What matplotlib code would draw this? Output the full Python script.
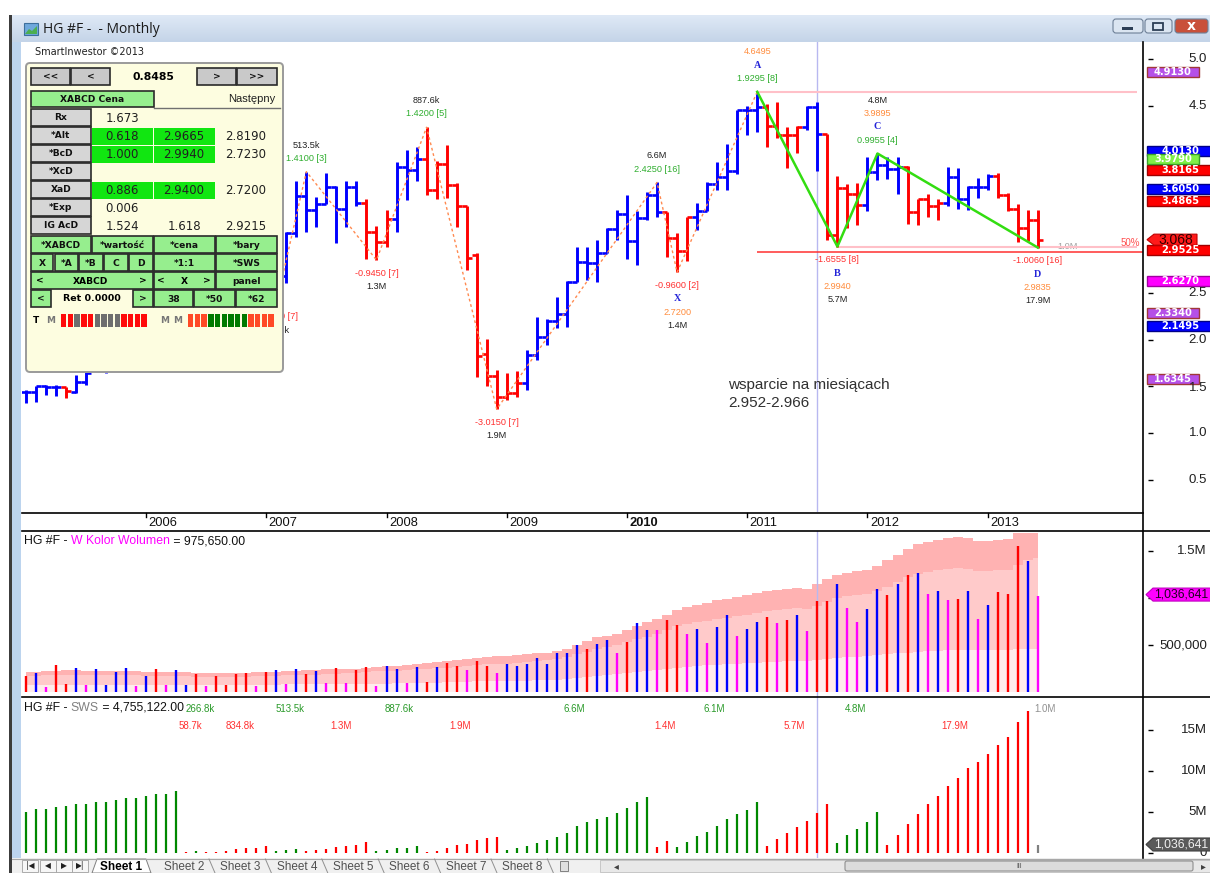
import numpy as np
import matplotlib
matplotlib.use("Agg")
import matplotlib.pyplot as plt
from matplotlib.patches import Rectangle, Polygon, FancyBboxPatch
from matplotlib.colors import LinearSegmentedColormap
from matplotlib import transforms

plt.rcParams['font.family'] = ['Liberation Sans', 'DejaVu Sans']

# ---------------- data (monthly, Jan 2005 .. Jun 2013) ----------------
opens = [1.44, 1.44, 1.50, 1.49, 1.49, 1.44, 1.55, 1.67, 1.70, 1.80,
         1.90, 2.03, 2.07, 2.25, 2.23, 2.47, 3.30, 3.73, 3.41, 3.54,
         3.49, 3.46, 3.39, 3.18, 2.87, 2.60, 2.68, 3.14, 3.53, 3.39,
         3.45, 3.635, 3.40, 3.635, 3.46, 3.15, 3.04, 3.29, 3.84, 3.81,
         3.93, 3.60, 3.88, 3.65, 3.43, 2.90, 1.85, 1.61, 1.39, 1.43,
         1.53, 1.83, 2.03, 2.20, 2.27, 2.62, 2.83, 2.815, 2.93, 3.18,
         3.34, 3.05, 3.30, 3.545, 3.36, 3.09, 2.95, 3.31, 3.37, 3.66,
         3.74, 3.80, 4.45, 4.46, 4.49, 4.28, 4.19, 4.19, 4.27, 4.49,
         4.20, 3.12, 3.62, 3.56, 3.44, 3.79, 3.87, 3.82, 3.85, 3.36,
         3.50, 3.43, 3.46, 3.74, 3.50, 3.63, 3.63, 3.75, 3.55, 3.40,
         3.19, 3.28]
highs = [1.46, 1.50, 1.51, 1.51, 1.49, 1.62, 1.66, 1.75, 1.82, 1.95,
         2.05, 2.22, 2.30, 2.32, 2.50, 3.36, 4.16, 3.80, 3.78, 3.66,
         3.65, 3.68, 3.40, 3.20, 2.90, 2.80, 3.15, 3.70, 3.795, 3.52,
         3.78, 3.64, 3.70, 3.70, 3.50, 3.21, 3.385, 3.90, 4.03, 4.06,
         4.27, 3.91, 4.085, 3.67, 3.43, 2.93, 2.01, 1.67, 1.64, 1.66,
         1.89, 2.24, 2.22, 2.45, 2.63, 2.99, 2.99, 3.06, 3.19, 3.385,
         3.545, 3.37, 3.58, 3.68, 3.36, 3.14, 3.31, 3.46, 3.68, 3.90,
         4.09, 4.45, 4.50, 4.6495, 4.52, 4.54, 4.27, 4.28, 4.50, 4.54,
         4.20, 3.75, 3.66, 3.67, 3.95, 3.9895, 3.95, 3.95, 3.86, 3.50,
         3.56, 3.50, 3.84, 3.83, 3.64, 3.73, 3.77, 3.78, 3.57, 3.45,
         3.39, 3.39]
lows = [1.32, 1.335, 1.41, 1.40, 1.37, 1.43, 1.51, 1.66, 1.645, 1.78,
        1.85, 1.98, 2.05, 2.13, 2.20, 2.45, 3.25, 2.88, 3.30, 3.35,
        3.33, 3.30, 3.05, 2.80, 2.45, 2.385, 2.60, 3.10, 3.15, 3.20,
        3.45, 3.03, 3.20, 3.43, 2.86, 2.85, 2.99, 3.15, 3.49, 3.70,
        3.545, 3.50, 3.515, 3.20, 2.74, 1.60, 1.50, 1.255, 1.35, 1.39,
        1.46, 1.78, 1.94, 2.12, 2.13, 2.62, 2.64, 2.62, 2.92, 3.06,
        2.86, 2.80, 3.28, 3.31, 2.885, 2.72, 2.84, 3.17, 3.37, 3.60,
        3.60, 3.77, 4.19, 4.22, 4.06, 4.15, 3.83, 4.00, 4.24, 3.80,
        3.06, 2.994, 3.19, 3.23, 3.37, 3.71, 3.72, 3.56, 3.24, 3.22,
        3.31, 3.28, 3.43, 3.40, 3.39, 3.51, 3.60, 3.51, 3.37, 3.04,
        3.05, 2.9835]
closes = [1.44, 1.50, 1.49, 1.49, 1.45, 1.55, 1.645, 1.70, 1.80, 1.90,
          2.03, 2.07, 2.25, 2.23, 2.47, 3.30, 3.73, 3.41, 3.54, 3.49,
          3.46, 3.39, 3.18, 2.87, 2.60, 2.68, 3.14, 3.53, 3.39, 3.45,
          3.635, 3.40, 3.635, 3.46, 3.15, 3.04, 3.29, 3.84, 3.81, 3.93,
          3.60, 3.88, 3.65, 3.43, 2.87, 1.82, 1.61, 1.39, 1.43, 1.53,
          1.83, 2.03, 2.20, 2.27, 2.62, 2.83, 2.815, 2.93, 3.18, 3.34,
          3.05, 3.30, 3.545, 3.36, 3.09, 2.95, 3.31, 3.37, 3.66, 3.74,
          3.80, 4.45, 4.46, 4.49, 4.28, 4.19, 4.19, 4.27, 4.49, 4.20,
          3.12, 3.62, 3.56, 3.44, 3.79, 3.87, 3.82, 3.85, 3.36, 3.50,
          3.43, 3.46, 3.74, 3.50, 3.63, 3.63, 3.75, 3.55, 3.40, 3.19,
          3.28, 3.068]
bar_colors = ("bbbbrbbbbb" "bbbrbbbrbr" "rrrrrrbbbb" "bbbbrrrbbb" "rrrrrrrrrr"
              "bbbbbbbbbb" "bbbbrrrbbb" "bbbbrrrrbb" "rrrrbbbbrr" "rrbbbbbrrr" "rr")

# volume in millions
volume = [0.17, 0.20, 0.05, 0.29, 0.08, 0.26, 0.07, 0.24, 0.07, 0.21,
          0.26, 0.06, 0.17, 0.24, 0.07, 0.23, 0.07, 0.19, 0.06, 0.17,
          0.07, 0.19, 0.20, 0.06, 0.21, 0.23, 0.08, 0.24, 0.19, 0.22,
          0.10, 0.26, 0.10, 0.23, 0.27, 0.06, 0.28, 0.25, 0.10, 0.27,
          0.11, 0.27, 0.31, 0.28, 0.23, 0.33, 0.28, 0.20, 0.30, 0.28,
          0.30, 0.36, 0.30, 0.42, 0.42, 0.50, 0.46, 0.51, 0.55, 0.41,
          0.53, 0.73, 0.66, 0.66, 0.77, 0.71, 0.62, 0.67, 0.52, 0.69,
          0.82, 0.60, 0.67, 0.74, 0.80, 0.73, 0.77, 0.82, 0.65, 0.97,
          0.97, 1.15, 0.89, 0.75, 0.88, 1.10, 1.03, 1.15, 1.25, 1.27,
          1.04, 1.07, 0.98, 0.99, 1.07, 0.78, 0.93, 1.06, 1.04, 1.55,
          1.39, 1.02]
vol_colors = ("rbmrrbmbbbbmbrmbbrmrrrrmrbmbrbmrmrrmbbmbrbrrmrrmbbbbbbbbrb"
              "bmrbbmrrmbmbbmbbrmrbmrrbmmbbrbrbmbmrbmbrrrbm")
band_top = [0.21, 0.21, 0.22, 0.22, 0.23, 0.23, 0.22, 0.22, 0.22, 0.22,
            0.22, 0.22, 0.21, 0.21, 0.21, 0.21, 0.21, 0.20, 0.20, 0.20,
            0.20, 0.20, 0.20, 0.21, 0.21, 0.21, 0.22, 0.22, 0.23, 0.23,
            0.24, 0.24, 0.25, 0.25, 0.26, 0.27, 0.28, 0.28, 0.29, 0.30,
            0.31, 0.32, 0.33, 0.34, 0.35, 0.36, 0.37, 0.38, 0.38, 0.39,
            0.40, 0.41, 0.42, 0.44, 0.46, 0.50, 0.54, 0.58, 0.60, 0.62,
            0.66, 0.70, 0.74, 0.78, 0.82, 0.87, 0.90, 0.93, 0.95, 0.98,
            0.99, 1.01, 1.03, 1.05, 1.07, 1.09, 1.10, 1.11, 1.10, 1.15,
            1.20, 1.25, 1.27, 1.29, 1.30, 1.34, 1.40, 1.46, 1.52, 1.57,
            1.60, 1.62, 1.64, 1.65, 1.64, 1.61, 1.61, 1.62, 1.63, 1.69,
            1.69, 1.69]
band_mid = [0.17, 0.17, 0.18, 0.18, 0.18, 0.18, 0.18, 0.18, 0.18, 0.18,
            0.18, 0.18, 0.17, 0.17, 0.17, 0.17, 0.17, 0.16, 0.16, 0.16,
            0.16, 0.16, 0.16, 0.17, 0.17, 0.17, 0.18, 0.18, 0.18, 0.18,
            0.19, 0.19, 0.20, 0.20, 0.21, 0.22, 0.22, 0.22, 0.23, 0.24,
            0.25, 0.26, 0.26, 0.27, 0.28, 0.29, 0.30, 0.30, 0.30, 0.31,
            0.32, 0.33, 0.34, 0.35, 0.37, 0.40, 0.43, 0.46, 0.48, 0.50,
            0.53, 0.56, 0.59, 0.62, 0.66, 0.70, 0.72, 0.74, 0.76, 0.78,
            0.79, 0.81, 0.82, 0.84, 0.86, 0.87, 0.88, 0.89, 0.88, 0.92,
            0.96, 1.00, 1.02, 1.03, 1.04, 1.07, 1.12, 1.17, 1.22, 1.26,
            1.28, 1.30, 1.31, 1.32, 1.31, 1.29, 1.29, 1.30, 1.30, 1.35,
            1.40, 1.43]
band_low = [0.07, 0.07, 0.07, 0.07, 0.07, 0.07, 0.07, 0.07, 0.07, 0.07,
            0.07, 0.07, 0.07, 0.07, 0.07, 0.07, 0.07, 0.07, 0.07, 0.07,
            0.07, 0.07, 0.07, 0.07, 0.07, 0.07, 0.08, 0.08, 0.08, 0.08,
            0.08, 0.08, 0.08, 0.09, 0.09, 0.09, 0.09, 0.10, 0.10, 0.10,
            0.10, 0.10, 0.11, 0.11, 0.11, 0.12, 0.12, 0.12, 0.12, 0.12,
            0.12, 0.13, 0.13, 0.13, 0.14, 0.15, 0.16, 0.17, 0.18, 0.19,
            0.20, 0.21, 0.22, 0.23, 0.24, 0.26, 0.27, 0.28, 0.29, 0.29,
            0.30, 0.30, 0.31, 0.31, 0.32, 0.32, 0.33, 0.33, 0.33, 0.34,
            0.35, 0.36, 0.37, 0.37, 0.38, 0.39, 0.40, 0.41, 0.42, 0.43,
            0.44, 0.44, 0.45, 0.45, 0.45, 0.45, 0.45, 0.45, 0.45, 0.46,
            0.46, 0.46]

# swing volume (SWS) in millions
sws = [5.04, 5.33, 5.33, 5.57, 5.73, 5.98, 5.98, 6.22, 6.22, 6.46,
       6.75, 6.75, 7.00, 7.16, 7.24, 7.56, 0.11, 0.20, 0.11, 0.11,
       0.20, 0.53, 0.60, 0.60, 0.89, 0.20, 0.36, 0.44, 0.28, 0.36,
       0.53, 0.77, 0.89, 1.00, 1.30, 0.20, 0.36, 0.60, 0.60, 0.85,
       0.11, 0.28, 0.60, 1.00, 1.14, 1.55, 1.79, 1.95, 0.36, 0.60,
       0.89, 1.26, 1.55, 1.91, 2.44, 3.33, 3.82, 4.10, 4.43, 4.92,
       5.45, 6.18, 6.79, 0.77, 1.50, 0.69, 1.38, 2.07, 2.60, 3.33,
       4.11, 4.76, 5.24, 6.18, 0.85, 1.67, 2.40, 3.21, 3.86, 4.84,
       5.94, 1.26, 2.15, 2.89, 3.82, 5.00, 1.02, 2.20, 3.54, 4.76,
       5.98, 7.00, 8.17, 9.19, 10.33, 11.14, 12.03, 13.17, 14.19, 15.94,
       17.36, 1.02]
sws_colors = ("gggggggggggggggg" "r" "g" "rrrrrrr" "ggg" "rrrrrrr" "ggggg" "rrrrrrrr"
              "gggggggggg" "ggggg" "rr" "ggggggggg" "rrrrrrr" "ggggg" "rrrrrrrrrrrrrrr" "k")
sws_up_labels = ['266.8k', '513.5k', '887.6k', '6.6M', '6.1M', '4.8M']
sws_up_pos = [17.4, 26.4, 37.3, 54.7, 68.7, 82.8]
sws_dn_labels = ['58.7k', '834.8k', '1.3M', '1.9M', '1.4M', '5.7M', '17.9M']
sws_dn_pos = [16.4, 21.4, 31.5, 43.3, 63.8, 76.7, 92.7]

# swing points and their labels
swing_i = [25, 28, 35, 40, 47, 63, 65, 73, 81, 85, 101]
swing_p = [2.385, 3.795, 2.85, 4.27, 1.255, 3.68, 2.72, 4.6495, 2.994, 3.9895, 2.9835]
swing_chg = ['-1.7750 [7]', '1.4100 [3]', '-0.9450 [7]', '1.4200 [5]', '-3.0150 [7]',
             '2.4250 [16]', '-0.9600 [2]', '1.9295 [8]', '-1.6555 [8]', '0.9955 [4]', '-1.0060 [16]']
swing_letter = ['', '', '', '', '', '', 'X', 'A', 'B', 'C', 'D']
swing_price = ['', '', '', '', '', '', '2.7200', '4.6495', '2.9940', '3.9895', '2.9835']
swing_vol = ['834.8k', '513.5k', '1.3M', '887.6k', '1.9M', '6.6M', '1.4M', '', '5.7M', '4.8M', '17.9M']

pattern_i = [73, 81, 85, 101]
pattern_p = [4.6495, 2.994, 3.9895, 2.9835]
cursor_i = 79

years = [2006, 2007, 2008, 2009, 2010, 2011, 2012, 2013]

side_vals = [4.9130, 4.0130, 3.8165, 3.9790, 3.6050, 3.4865, 2.9525, 2.6270, 2.3340, 2.1495, 1.6345]
side_kind = ['purple', 'blue', 'red', 'green', 'blue', 'red', 'red', 'magenta', 'purple', 'blue', 'purple']
last_price = 3.068
last_volume = 1.036641

# scale labels that are not covered by the value boxes
price_ticks = [0.5, 1.0, 1.5, 2.0, 2.5, 3.0, 3.5, 4.0, 4.5, 5.0]
price_ticklabels = ['0.5', '1.0', '1.5', '2.0', '2.5', '', '', '', '4.5', '5.0']
vol_ticks = [0.5, 1.0, 1.5]
vol_ticklabels = ['500,000', '', '1.5M']
sws_ticks = [0, 5, 10, 15]
sws_ticklabels = ['0', '5M', '10M', '15M']

panel_rows = ['Rx', '*Alt', '*BcD', '*XcD', 'XaD', '*Exp', 'IG AcD']
panel_vals = [['1.673', '', ''], ['0.618', '2.9665', '2.8190'], ['1.000', '2.9940', '2.7230'],
              ['', '', ''], ['0.886', '2.9400', '2.7200'], ['0.006', '', ''],
              ['1.524', '1.618', '2.9215']]
panel_green = [[0, 0], [1, 1], [1, 1], [0, 0], [1, 1], [0, 0], [0, 0]]
strength_1 = "rrgrrggggrrrr"
strength_2 = "oooGGGGGGoooo"

# ---------------- figure ----------------
W, H = 1210, 873
fig = plt.figure(figsize=(W / 100, H / 100), dpi=100, facecolor='white')


def px_axes(x0, y0, x1, y1, **kw):
    return fig.add_axes([x0 / W, 1 - y1 / H, (x1 - x0) / W, (y1 - y0) / H], **kw)


def vunit(ax):
    y0, y1 = ax.get_ylim()
    return (y1 - y0) / (ax.get_position().height * H)


XL, XR = 22, 1143
xlim = (-0.38, 111.5)
BLUE, RED, MAG = '#0000ff', '#ff0000', '#ff00ff'
cmap_bar = {'b': BLUE, 'r': RED, 'm': MAG, 'g': '#008800', 'k': '#808080'}

# ---- price panel ----
ax = px_axes(XL, 42, XR, 512)
ax.set_xlim(*xlim)
ax.set_ylim(0.155, 5.182)
ax.axis('off')
idx = np.arange(len(closes))
for i in idx:
    c = cmap_bar[bar_colors[i]]
    ax.vlines(i, lows[i], highs[i], color=c, lw=2.1, capstyle='butt', zorder=3)
    ax.hlines(opens[i], i - 0.5, i, color=c, lw=1.9, zorder=3)
    ax.hlines(closes[i], i, i + 0.5, color=c, lw=1.9, zorder=3)

ax.plot(swing_i[:8], swing_p[:8], color='#ff8a50', lw=1.0, ls=(0, (2, 2)), zorder=4)
ax.plot(pattern_i, pattern_p, color='#33dd11', lw=1.8, zorder=5)
ax.hlines(pattern_p[0], pattern_i[0], 110.9, color='#ffc0c8', lw=1.5, zorder=2)
ax.hlines(2.94, pattern_i[0], xlim[1], color='#ff3030', lw=1.1, zorder=2)
ax.hlines(pattern_p[1], pattern_i[1], 110.9, color='#ffc0c8', lw=1.5, zorder=2)
ax.axvline(cursor_i, color='#b8b8f0', lw=1.0, zorder=1)
ax.text(104, pattern_p[1], '1.0M', color='#a0a0a0', fontsize=6.6, ha='center', va='center', zorder=1)
ax.annotate('50%', xy=(111.2, pattern_p[1]), xytext=(0, 4), textcoords='offset pixels',
            color='#ff5050', fontsize=7, ha='right', va='center')

for k in range(len(swing_i)):
    up = not swing_chg[k].startswith('-')
    sgn = 1 if up else -1
    lines = [(swing_chg[k], '#2fae2f' if up else '#ff3030', 'normal', 'sans'),
             (swing_letter[k], '#2323d8', 'bold', 'serif'),
             (swing_price[k], '#ff8c3c', 'normal', 'sans'),
             (swing_vol[k], '#222222', 'normal', 'sans')]
    n = 0
    for txt, col, wt, fam in lines:
        if not txt:
            continue
        n += 1
        fam_l = ['Liberation Serif', 'DejaVu Serif'] if fam == 'serif' else ['Liberation Sans', 'DejaVu Sans']
        ax.annotate(txt, xy=(swing_i[k], swing_p[k]), xytext=(0, sgn * 13.3 * n),
                    textcoords='offset pixels', ha='center', va='center', color=col,
                    fontsize=7.3 if fam == 'serif' else 6.6, fontweight=wt, family=fam_l, zorder=6)

ax.text(70.1, 1.59, 'wsparcie na miesiącach\n2.952-2.966', fontsize=11, color='#303030',
        va='top', ha='left', linespacing=1.42)

# ---- price side scale ----
sp = px_axes(XR, 42, W, 512)
sp.set_xlim(0, 67)
sp.set_ylim(ax.get_ylim())
sp.axis('off')
u = vunit(sp)
sp.hlines(price_ticks, 5, 10, color='black', lw=1)

box_style = {'purple': ('#b550e8', '#a03838', True), 'green': ('#80f048', '#3aa02a', True),
             'blue': (BLUE, '#000088', False), 'red': (RED, '#a00000', False),
             'magenta': (MAG, '#a000a0', False)}
for v, kind in zip(side_vals, side_kind):
    fc, ec, short = box_style[kind]
    h = 10 * u
    y0 = v - h if short else v - h / 2
    w = 52 if short else 70
    sp.add_patch(Rectangle((4, y0), w, h, fc=fc, ec=ec, lw=1, clip_on=False, zorder=5))
    sp.text(30 if short else 37, y0 + h / 2, f'{v:.4f}', color='white', fontsize=7.1,
            fontweight='bold', ha='center', va='center', zorder=6, family=['DejaVu Sans'])
h = 11 * u
sp.add_patch(Polygon([(4, last_price), (11, last_price + h / 2), (54, last_price + h / 2),
                      (54, last_price - h / 2), (11, last_price - h / 2)],
                     closed=True, fc='#ff1a1a', ec='#c00000', lw=0.8, clip_on=False, zorder=5))
sp.text(33, last_price, f'{last_price:.3f}', color='#300000', fontsize=10, ha='center',
        va='center', zorder=6)
for t, s in zip(price_ticks, price_ticklabels):
    if s:
        sp.annotate(s, xy=(64, t), xytext=(0, -1.5 if t == 1.5 else 0), textcoords='offset pixels',
                    ha='right', va='center', fontsize=9.5, color='#202020', zorder=7)

# ---- time strip ----
at = px_axes(XL, 512, XR, 531)
at.set_xlim(*xlim)
at.set_ylim(0, 1)
at.axis('off')
tr = transforms.blended_transform_factory(at.transData, at.transAxes)
for y in years:
    xi = 12 * (y - 2005)
    at.plot([xi, xi], [0.72, 0.95], color='black', lw=1, transform=tr)
    at.text(xi + 0.25, 0.42, str(y), transform=tr, fontsize=9.3, va='center', ha='left',
            fontweight='bold' if y == 2010 else 'normal', color='#101010')

# ---- volume panel ----
av = px_axes(XL, 531, XR, 697)
av.set_xlim(*xlim)
av.set_ylim(-0.053, 1.713)
av.axis('off')
av.fill_between(idx, 0, band_low, step='mid', color='#ffecec', lw=0, zorder=1)
av.fill_between(idx, band_low, band_mid, step='mid', color='#ffcaca', lw=0, zorder=1)
av.fill_between(idx, band_mid, band_top, step='mid', color='#ffb2b2', lw=0, zorder=1)
for i in idx:
    av.vlines(i, 0, volume[i], color=cmap_bar[vol_colors[i]], lw=1.7, zorder=3)
av.axvline(cursor_i, color='#b8b8f0', lw=1.0, zorder=2)

sv = px_axes(XR, 531, W, 697)
sv.set_xlim(0, 67)
sv.set_ylim(av.get_ylim())
sv.axis('off')
u = vunit(sv)
sv.hlines(vol_ticks, 5, 10, color='black', lw=1)
for t, s in zip(vol_ticks, vol_ticklabels):
    if s:
        sv.text(64, t, s, ha='right', va='center', fontsize=9.5, color='#202020')
h = 13 * u
sv.add_patch(Polygon([(3, last_volume), (10, last_volume + h / 2), (75, last_volume + h / 2),
                      (75, last_volume - h / 2), (10, last_volume - h / 2)],
                     closed=True, fc=MAG, ec='#c000c0', lw=0.8, clip_on=False, zorder=5))
sv.text(11, last_volume, f'{last_volume * 1e6:,.0f}', color='#200020', fontsize=8.8,
        ha='left', va='center', zorder=6)

# ---- SWS panel ----
aw = px_axes(XL, 697, XR, 858)
aw.set_xlim(*xlim)
aw.set_ylim(-0.61, 19.02)
aw.axis('off')
for i in idx:
    aw.vlines(i, 0, sws[i], color=cmap_bar[sws_colors[i]], lw=1.6, zorder=3)
aw.axvline(cursor_i, color='#b8b8f0', lw=1.0, zorder=2)
trw = transforms.blended_transform_factory(aw.transData, aw.transAxes)
for s, p in zip(sws_up_labels, sws_up_pos):
    aw.text(p, 0.925, s, transform=trw, color='#2a9a2a', fontsize=7, ha='center', va='center')
for s, p in zip(sws_dn_labels, sws_dn_pos):
    aw.text(p, 0.82, s, transform=trw, color='#ff3030', fontsize=7, ha='center', va='center')
aw.text(101.7, 0.925, '1.0M', transform=trw, color='#909090', fontsize=7, ha='center', va='center')

sw = px_axes(XR, 697, W, 858)
sw.set_xlim(0, 67)
sw.set_ylim(aw.get_ylim())
sw.axis('off')
u = vunit(sw)
sw.hlines(sws_ticks, 5, 10, color='black', lw=1)
for t, s in zip(sws_ticks, sws_ticklabels):
    sw.text(64, t, s, ha='right', va='center', fontsize=9.5, color='#202020')
h = 13 * u
sw.add_patch(Polygon([(3, last_volume), (10, last_volume + h / 2), (75, last_volume + h / 2),
                      (75, last_volume - h / 2), (10, last_volume - h / 2)],
                     closed=True, fc='#5a5a5a', ec='#404040', lw=0.8, clip_on=False, zorder=5))
sw.text(11, last_volume, f'{last_volume * 1e6:,.0f}', color='#f0f0f0', fontsize=8.8,
        ha='left', va='center', zorder=6)

# ---------------- window chrome & overlay panel ----------------
ov = fig.add_axes([0, 0, 1, 1], zorder=20)
ov.patch.set_alpha(0)
ov.axis('off')
grad = np.linspace(0, 1, 30)[:, None]
tb = LinearSegmentedColormap.from_list('tb', ['#dfe9f6', '#c4d4e8'])
ov.imshow(grad, extent=(11, W, 42, 15), cmap=tb, aspect='auto', origin='upper', zorder=0)
ov.set_xlim(0, W)
ov.set_ylim(H, 0)

ov.add_patch(Rectangle((9, 15), 2.5, H - 15, fc='#3c3c3c', lw=0))
ov.add_patch(Rectangle((11.5, 42), 9.5, 816, fc='#bcd4ee', lw=0))
ov.plot([XR, XR], [42, 858], color='black', lw=1.2)
ov.plot([XL, XR], [512.5, 512.5], color='black', lw=1.2)
ov.plot([XL, W], [531, 531], color='black', lw=1.2)
ov.plot([XL, W], [697, 697], color='black', lw=1.2)

# title bar
ov.add_patch(Rectangle((24, 23), 14, 12, fc='#6fa8dc', ec='#3d6f9c', lw=0.8))
ov.add_patch(Polygon([(25, 34), (29, 29), (32, 31), (37, 26), (37, 34)], fc='#4caf50', lw=0))
ov.text(43, 29.5, 'HG #F -  - Monthly', fontsize=10, va='center', color='#1a1a1a',
        family=['Open Sans', 'DejaVu Sans'])
for x0, x1, fc in [(1113, 1143, '#dbe5f1'), (1145, 1172, '#dbe5f1'), (1175, 1208, '#c9503a')]:
    ov.add_patch(FancyBboxPatch((x0, 19), x1 - x0, 14, boxstyle='round,pad=0,rounding_size=3',
                                fc=fc, ec='#6d7f96', lw=0.8))
ov.add_patch(Rectangle((1122, 27), 11, 2.5, fc='#2c3e55', lw=0))
ov.add_patch(Rectangle((1153, 22.5), 10, 7.5, fc='none', ec='#2c3e55', lw=1.3))
ov.text(1191.5, 26.5, 'x', color='white', fontsize=10, fontweight='bold', ha='center', va='center',
        family=['DejaVu Sans'])
ov.text(35, 52, 'SmartInwestor ©2013', fontsize=7, va='center', color='#202020',
        family=['DejaVu Sans'])


def chain(x, y, parts, **kw):
    r = fig.canvas.get_renderer()
    for s, col in parts:
        t = ov.text(x, y, s, color=col, va='center', ha='left', **kw)
        x += t.get_window_extent(renderer=r).width


chain(24, 541, [('HG #F - ', '#101010'), ('W Kolor Wolumen', MAG), (' = 975,650.00', '#101010')],
      fontsize=8.8)
chain(24, 708, [('HG #F - ', '#101010'), ('SWS', '#808080'), (' = 4,755,122.00', '#101010')],
      fontsize=8.8)

# control panel
ov.add_patch(FancyBboxPatch((26, 63), 257, 309, boxstyle='round,pad=0,rounding_size=4',
                            fc='#fdfde0', ec='#9a9a9a', lw=1.4))
GRAY, GREEN, LIME = '#c9c9c9', '#96ee8e', '#11e611'
BF = ['DejaVu Sans']


def button(x0, y0, x1, y1, fc, label='', fs=6.6, bold=True):
    ov.add_patch(Rectangle((x0, y0), x1 - x0, y1 - y0, fc=fc, ec='#2a2a2a', lw=1.2))
    if label:
        ov.text((x0 + x1) / 2, (y0 + y1) / 2 + 0.5, label, ha='center', va='center', fontsize=fs,
                fontweight='bold' if bold else 'normal', family=BF, color='#111111')


button(31, 68, 70, 85, GRAY, '<<')
button(71, 68, 110, 85, GRAY, '<')
ov.text(153, 76.5, '0.8485', ha='center', va='center', fontsize=7.8, fontweight='bold', family=BF)
button(197, 68, 236, 85, GRAY, '>')
button(237, 68, 277, 85, GRAY, '>>')
button(31, 91, 154, 107, GREEN, 'XABCD Cena')
ov.text(275, 99, 'Następny', ha='right', va='center', fontsize=8, color='#202020')
ov.plot([154, 280], [108, 108], color='#707070', lw=1)

for r, (lab, vals, gr) in enumerate(zip(panel_rows, panel_vals, panel_green)):
    top = 109 + 18 * r
    button(31, top, 91, top + 17, '#d6d6d6', lab)
    for c in range(2):
        if gr[c]:
            ov.add_patch(Rectangle((92 + 62 * c, top + 0.5), 61, 17, fc=LIME, lw=0))
    for c, v in enumerate(vals):
        if v:
            ov.text(122 + 62 * c, top + 9, v, ha='center', va='center', fontsize=8.5,
                    color='#202020', family=BF)

for x0, x1, lab in [(31, 91, '*XABCD'), (92, 153, '*wartość'), (154, 215, '*cena'), (216, 277, '*bary')]:
    button(x0, 236, x1, 253, GREEN, lab)
for x0, x1, lab in [(31, 53, 'X'), (55, 78, '*A'), (79, 103, '*B'), (104, 128, 'C'), (129, 153, 'D'),
                    (154, 215, '*1:1'), (216, 277, '*SWS')]:
    button(x0, 254, x1, 271, GREEN, lab)
button(31, 272, 153, 289, GREEN)
button(154, 272, 215, 289, GREEN)
button(216, 272, 277, 289, GREEN, 'panel')
for x, s in [(40, '<'), (91, 'XABCD'), (143, '>'), (161, '<'), (184, 'X'), (207, '>')]:
    ov.text(x, 281, s, ha='center', va='center', fontsize=6.6, fontweight='bold', family=BF)
button(31, 290, 51, 307, GREEN, '<')
ov.text(92, 298.5, 'Ret 0.0000', ha='center', va='center', fontsize=6.8, fontweight='bold', family=BF)
button(133, 290, 153, 307, GREEN, '>')
button(154, 290, 193, 307, GREEN, '38')
button(194, 290, 235, 307, GREEN, '*50')
button(236, 290, 277, 307, GREEN, '*62')

scol = {'r': '#ff0a0a', 'g': '#6e6e6e', 'o': '#ff4a26', 'G': '#007a00'}
ov.text(33, 320.5, 'T', fontsize=6.5, fontweight='bold', va='center', family=BF)
ov.text(46, 320.5, 'M', fontsize=6.5, fontweight='bold', va='center', color='#777777', family=BF)
ov.text(160, 320.5, 'M', fontsize=6.5, fontweight='bold', va='center', color='#777777', family=BF)
ov.text(173, 320.5, 'M', fontsize=6.5, fontweight='bold', va='center', color='#777777', family=BF)
for k, c in enumerate(strength_1):
    ov.add_patch(Rectangle((61 + 6.7 * k, 314), 5.4, 13, fc=scol[c], lw=0))
for k, c in enumerate(strength_2):
    ov.add_patch(Rectangle((188 + 6.7 * k, 314), 5.4, 13, fc=scol[c], lw=0))

# sheet tabs bar
ov.add_patch(Rectangle((11.5, 858), W, 15, fc='#f0f0f0', lw=0))
ov.plot([11.5, W], [858.5, 858.5], color='#a8a8a8', lw=0.8)
for x0, s in [(22, '|◀'), (40, '◀'), (56, '▶'), (72, '▶|')]:
    ov.add_patch(Rectangle((x0, 860), 16, 12, fc='#f6f6f6', ec='#a0a0a0', lw=0.6))
    ov.text(x0 + 8, 866, s, ha='center', va='center', fontsize=5.5, family=BF, color='#202020')
ov.add_patch(Polygon([(92, 873), (97, 859), (146, 859), (151, 873)], fc='white', ec='#808080', lw=0.7))
ov.text(121.5, 866.5, 'Sheet 1', ha='center', va='center', fontsize=8.5, fontweight='bold')
for k in range(2, 9):
    xc = 184 + 56.4 * (k - 2)
    ov.text(xc, 866.5, f'Sheet {k}', ha='center', va='center', fontsize=8.5, color='#505050')
    ov.plot([xc + 25, xc + 31], [859, 873], color='#909090', lw=0.7)
ov.add_patch(Rectangle((560, 861), 8, 10, fc='#e0e0e0', ec='#707070', lw=0.6))
ov.add_patch(Rectangle((600, 860), W - 600, 12, fc='#e8e8e8', ec='#c0c0c0', lw=0.6))
ov.text(616, 866, '◂', ha='center', va='center', fontsize=7, color='#404040', family=BF)
ov.add_patch(FancyBboxPatch((845, 861), 348, 10, boxstyle='round,pad=0,rounding_size=2',
                            fc='#dcdcdc', ec='#8f8f8f', lw=0.8))
ov.text(1019, 866, 'III', ha='center', va='center', fontsize=5, color='#505050')
ov.text(1203, 866, '▸', ha='center', va='center', fontsize=7, color='#404040', family=BF)

fig.savefig('out.png', dpi=100, facecolor='white')
